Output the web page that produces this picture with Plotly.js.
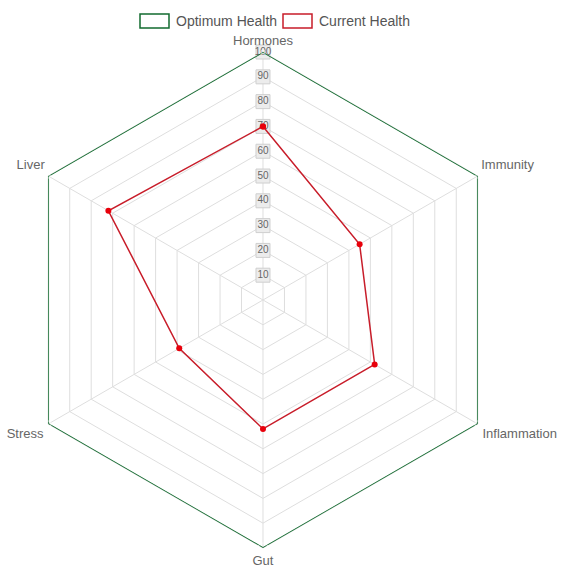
<!DOCTYPE html>
<html>
<head>
<meta charset="utf-8">
<script src="https://cdn.plot.ly/plotly-3.0.1.min.js"></script>
<style>
  html, body { margin: 0; padding: 0; background: #fff; }
  #plot { width: 569px; height: 581px; }
</style>
</head>
<body>
<div id="plot"></div>
<script>
const categories = ['Hormones', 'Immunity', 'Inflammation', 'Gut', 'Stress', 'Liver'];
const optimumHealth = [100, 100, 100, 100, 100, 100];
const currentHealth = [70, 45, 52, 52, 39, 72];
const radialTicks = [10, 20, 30, 40, 50, 60, 70, 80, 90, 100];
const seriesNames = ['Optimum Health', 'Current Health'];
const seriesColors = ['#126b2f', '#c81d2a'];
// where each category label sits around its spoke end, and how far out
const labelSides = ['top center', 'top right', 'bottom right', 'bottom center', 'bottom left', 'top left'];
const labelGap = [4, 4, 6, 10, 6, 4];

const W = 569;
const H = 581;

// close the polygon by repeating the first point
const closeLoop = (arr) => arr.concat(arr.slice(0, 1));

const optimumTrace = {
  type: 'scatterpolar',
  name: seriesNames[0],
  r: closeLoop(optimumHealth),
  theta: closeLoop(categories),
  mode: 'lines',
  line: { color: seriesColors[0], width: 1.6 },
  hoverinfo: 'skip',
  showlegend: false,
};

const currentTrace = {
  type: 'scatterpolar',
  name: seriesNames[1],
  r: closeLoop(currentHealth),
  theta: closeLoop(categories),
  mode: 'lines+markers',
  line: { color: seriesColors[1], width: 1.5 },
  marker: { color: '#e8000b', size: 6 },
  showlegend: false,
};

// tick labels with a boxed backdrop along the Hormones spoke
const tickTrace = {
  type: 'scatterpolar',
  r: radialTicks,
  theta: radialTicks.map(() => categories[0]),
  mode: 'markers+text',
  text: radialTicks.map(String),
  textposition: 'middle center',
  textfont: { family: 'Liberation Sans, Arial, sans-serif', size: 10, color: '#666' },
  marker: { symbol: 'square', size: 14, color: '#ececec', line: { color: '#cfcfcf', width: 1 } },
  showlegend: false,
  hoverinfo: 'skip',
};

// category names at the outer ring (invisible markers push the text out)
const labelTrace = {
  type: 'scatterpolar',
  r: categories.map(() => 100),
  theta: categories,
  mode: 'markers+text',
  text: categories,
  textposition: labelSides,
  textfont: { family: 'Liberation Sans, Arial, sans-serif', size: 13, color: '#666' },
  marker: { size: labelGap, color: 'rgba(0,0,0,0)' },
  cliponaxis: false,
  showlegend: false,
  hoverinfo: 'skip',
};

const data = [tickTrace, optimumTrace, currentTrace, labelTrace];

// hand-drawn legend: outlined boxes like the original
const legendBoxes = [[140, 169], [283, 312]];
const legendText = [174, 317];
const shapes = legendBoxes.map((b, i) => ({
  type: 'rect',
  xref: 'paper',
  yref: 'paper',
  x0: b[0] / W,
  x1: b[1] / W,
  y0: (H - 28) / H,
  y1: (H - 14) / H,
  line: { color: seriesColors[i], width: 1.5 },
  fillcolor: '#fff',
}));
const annotations = seriesNames.map((name, i) => ({
  xref: 'paper',
  yref: 'paper',
  x: legendText[i] / W,
  y: (H - 21) / H,
  xanchor: 'left',
  yanchor: 'middle',
  text: name,
  showarrow: false,
  font: { size: 14, color: '#555' },
}));

const layout = {
  width: W,
  height: H,
  margin: { l: 0, r: 0, t: 0, b: 0 },
  paper_bgcolor: '#fff',
  font: { family: 'Liberation Sans, Arial, sans-serif', size: 12, color: '#666' },
  showlegend: false,
  shapes,
  annotations,
  polar: {
    domain: { x: [0.0264, 0.898], y: [0.0568, 0.9105] },
    gridshape: 'linear',
    bgcolor: '#fff',
    radialaxis: {
      range: [0, 100],
      dtick: 10,
      showticklabels: false,
      ticks: '',
      showline: false,
      gridcolor: '#dedede',
      gridwidth: 1,
      layer: 'below traces',
    },
    angularaxis: {
      rotation: 90,
      direction: 'clockwise',
      ticks: '',
      showline: true,
      showticklabels: false,
      linecolor: '#dedede',
      gridcolor: '#dedede',
      layer: 'below traces',
    },
  },
};

Plotly.newPlot('plot', data, layout, { displayModeBar: false, staticPlot: true });
</script>
</body>
</html>
